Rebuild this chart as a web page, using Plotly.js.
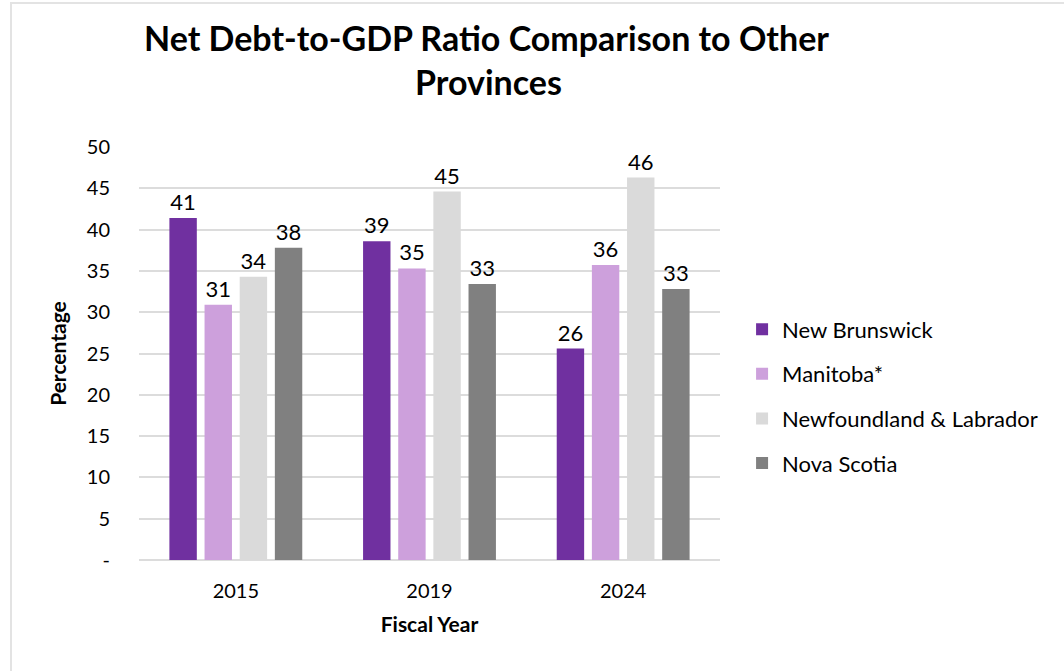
<!DOCTYPE html>
<html>
<head>
<meta charset="utf-8">
<script src="https://cdn.plot.ly/plotly-3.0.1.min.js"></script>
<style>
  html, body { margin: 0; padding: 0; background: #fff; }
  #wrap { position: relative; width: 1064px; height: 671px; overflow: hidden; }
  #frame { position: absolute; left: 10px; top: 2px; width: 1080px; height: 700px; border: 2px solid #e3e3e3; box-sizing: border-box; pointer-events: none; z-index: 5; }
  #chart { position: absolute; left: 0; top: 0; width: 1064px; height: 671px; }
</style>
</head>
<body>
<div id="wrap">
  <div id="chart"></div>
  <div id="frame"></div>
</div>
<script>
const years = ['2015', '2019', '2024'];
const newBrunswick = [41.4, 38.6, 25.6];
const manitoba = [30.9, 35.3, 35.7];
const newfoundland = [34.3, 44.6, 46.3];
const novaScotia = [37.8, 33.4, 32.8];
const seriesNames = ['New Brunswick', 'Manitoba*', 'Newfoundland & Labrador', 'Nova Scotia'];
const seriesColors = ['#7030a0', '#cda0dc', '#dadada', '#808080'];
const yTickVals = [0, 5, 10, 15, 20, 25, 30, 35, 40, 45, 50];
const yTickText = ['-', '5', '10', '15', '20', '25', '30', '35', '40', '45', '50'];
const titleLines = ['Net Debt-to-GDP Ratio Comparison to Other', 'Provinces'];

const FONT = 'Lato, "Open Sans", sans-serif';
const seriesData = [newBrunswick, manitoba, newfoundland, novaScotia];

const traces = seriesData.map((vals, i) => ({
  type: 'bar',
  name: seriesNames[i],
  x: years,
  y: vals,
  marker: { color: seriesColors[i] },
  texttemplate: '%{y:.0f}',
  textposition: 'outside',
  cliponaxis: false,
  textfont: { family: FONT, size: 22, color: '#000' },
  legendgroup: 'g' + i,
  hoverinfo: 'x+y+name'
}));

const layout = {
  width: 1064,
  height: 671,
  paper_bgcolor: '#fff',
  plot_bgcolor: '#fff',
  font: { family: FONT, color: '#000' },
  margin: { l: 139, r: 344, t: 147, b: 111, pad: 0 },
  barmode: 'group',
  bargap: 0.274,
  bargroupgap: 0.22,
  annotations: [
    { text: '<b>' + titleLines[0] + '</b>', xref: 'paper', yref: 'paper', x: 0.598, y: (671 - 111 - 38) / 413, xanchor: 'center', yanchor: 'middle', showarrow: false, font: { family: FONT, size: 34, color: '#000' } },
    { text: '<b>' + titleLines[1] + '</b>', xref: 'paper', yref: 'paper', x: 0.601, y: (671 - 111 - 82) / 413, xanchor: 'center', yanchor: 'middle', showarrow: false, font: { family: FONT, size: 34, color: '#000' } }
  ],
  xaxis: {
    type: 'category',
    tickfont: { family: FONT, size: 20, color: '#000' },
    showgrid: false,
    showline: false,
    ticks: '',
    ticklabelstandoff: 17,
    title: { text: '<b>Fiscal Year</b>', font: { family: FONT, size: 21, color: '#000' }, standoff: 16 }
  },
  yaxis: {
    range: [0, 50],
    tickvals: yTickVals,
    ticktext: yTickText,
    tickfont: { family: FONT, size: 20, color: '#000' },
    showgrid: true,
    gridcolor: '#dcdcdc',
    gridwidth: 2,
    zeroline: true,
    zerolinecolor: '#dcdcdc',
    zerolinewidth: 2,
    showline: false,
    ticks: '',
    ticklabelstandoff: 28,
    title: { text: '<b>Percentage</b>', font: { family: FONT, size: 21, color: '#000' }, standoff: 14 }
  },
  legend: {
    x: 1.038, xanchor: 'left',
    y: 0.396, yanchor: 'middle',
    font: { family: FONT, size: 22, color: '#000' },
    traceorder: 'grouped',
    tracegroupgap: 13,
    bgcolor: 'rgba(0,0,0,0)'
  },
  showlegend: true
};

Plotly.newPlot('chart', traces, layout, { displayModeBar: false, staticPlot: true });
</script>
</body>
</html>
